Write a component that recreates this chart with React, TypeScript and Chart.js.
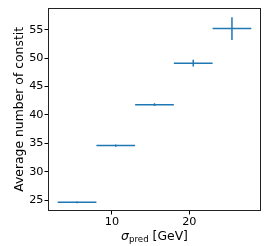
import React, { useEffect, useRef } from "react";
import { Chart, registerables } from "chart.js";

Chart.register(...registerables);

const xCenters = [5.5, 10.5, 15.5, 20.5, 25.5];
const xErrors = [2.5, 2.5, 2.5, 2.5, 2.5];
const yValues = [24.6, 34.6, 41.8, 49.1, 55.2];
const yErrors = [0.15, 0.2, 0.25, 0.6, 2.0];
const xTicks = [10, 20];
const yTicks = [25, 30, 35, 40, 45, 50, 55];
const yLabel = "Average number of constit";
const xLabelMain = "σ";
const xLabelSub = "pred";
const xLabelUnit = " [GeV]";

const COLOR = "#1f77b4";
const FONT = "'DejaVu Sans', sans-serif";

export default function App() {
  const ref = useRef<HTMLCanvasElement | null>(null);

  useEffect(() => {
    const canvas = ref.current;
    if (!canvas) return;

    const datasets: any[] = [];
    xCenters.forEach((x, i) => {
      datasets.push({
        data: [
          { x: x - xErrors[i], y: yValues[i] },
          { x: x + xErrors[i], y: yValues[i] },
        ],
        showLine: true,
        borderColor: COLOR,
        borderWidth: 1.5,
        pointRadius: 0,
      });
      datasets.push({
        data: [
          { x: x, y: yValues[i] - yErrors[i] },
          { x: x, y: yValues[i] + yErrors[i] },
        ],
        showLine: true,
        borderColor: COLOR,
        borderWidth: 1.5,
        pointRadius: 0,
      });
    });

    const framePlugin = {
      id: "frame",
      afterDraw(chart: any) {
        const { ctx, chartArea } = chart;
        ctx.save();
        ctx.strokeStyle = "#222";
        ctx.lineWidth = 1;
        ctx.strokeRect(
          Math.round(chartArea.left) + 0.5,
          Math.round(chartArea.top) + 0.5,
          Math.round(chartArea.right - chartArea.left) - 1,
          Math.round(chartArea.bottom - chartArea.top) - 1
        );
        // x axis title with subscript
        const mainSize = 12.4;
        const subSize = 8.7;
        ctx.fillStyle = "#000";
        ctx.textBaseline = "alphabetic";
        ctx.textAlign = "left";
        ctx.font = `italic ${mainSize}px ${FONT}`;
        const w1 = ctx.measureText(xLabelMain).width;
        ctx.font = `${subSize}px ${FONT}`;
        const w2 = ctx.measureText(xLabelSub).width;
        ctx.font = `${mainSize}px ${FONT}`;
        const w3 = ctx.measureText(xLabelUnit).width;
        const total = w1 + w2 + w3;
        const cx = (chartArea.left + chartArea.right) / 2;
        const baseY = 239.5;
        let x = cx - total / 2;
        ctx.font = `italic ${mainSize}px ${FONT}`;
        ctx.fillText(xLabelMain, x, baseY);
        x += w1;
        ctx.font = `${subSize}px ${FONT}`;
        ctx.fillText(xLabelSub, x, baseY + 2.5);
        x += w2;
        ctx.font = `${mainSize}px ${FONT}`;
        ctx.fillText(xLabelUnit, x, baseY);
        ctx.restore();
      },
    };

    const chart = new Chart(canvas, {
      type: "scatter",
      data: { datasets },
      plugins: [framePlugin],
      options: {
        animation: false,
        responsive: false,
        devicePixelRatio: 1,
        layout: { padding: { top: 7, right: 9, left: 0, bottom: 0 } },
        plugins: {
          legend: { display: false },
          tooltip: { enabled: false },
        },
        scales: {
          x: {
            type: "linear",
            min: 1.75,
            max: 29.25,
            afterFit: (s: any) => {
              s.height = 35;
            },
            afterBuildTicks: (s: any) => {
              s.ticks = xTicks.map((v) => ({ value: v }));
            },
            grid: {
              display: true,
              drawOnChartArea: false,
              drawTicks: true,
              tickLength: 3.5,
              tickColor: "#000",
              color: "#000",
            },
            border: { display: false },
            ticks: {
              color: "#000",
              font: { family: FONT, size: 11.25 },
              padding: 1,
              maxRotation: 0,
            },
          },
          y: {
            type: "linear",
            min: 23.07,
            max: 58.87,
            afterFit: (s: any) => {
              s.width = 48;
            },
            afterBuildTicks: (s: any) => {
              s.ticks = yTicks.map((v) => ({ value: v }));
            },
            grid: {
              display: true,
              drawOnChartArea: false,
              drawTicks: true,
              tickLength: 3.5,
              tickColor: "#000",
              color: "#000",
            },
            border: { display: false },
            ticks: {
              color: "#000",
              font: { family: FONT, size: 11.25 },
              padding: 1,
            },
            title: {
              display: true,
              text: yLabel,
              color: "#000",
              font: { family: FONT, size: 12.4 },
              padding: { top: 12.5, bottom: 0 },
            },
          },
        },
      },
    });

    return () => chart.destroy();
  }, []);

  return (
    <div style={{ position: "fixed", left: 0, top: 0, width: 270, height: 246, background: "#fff" }}>
      <canvas ref={ref} width={270} height={246} style={{ display: "block" }} />
    </div>
  );
}
